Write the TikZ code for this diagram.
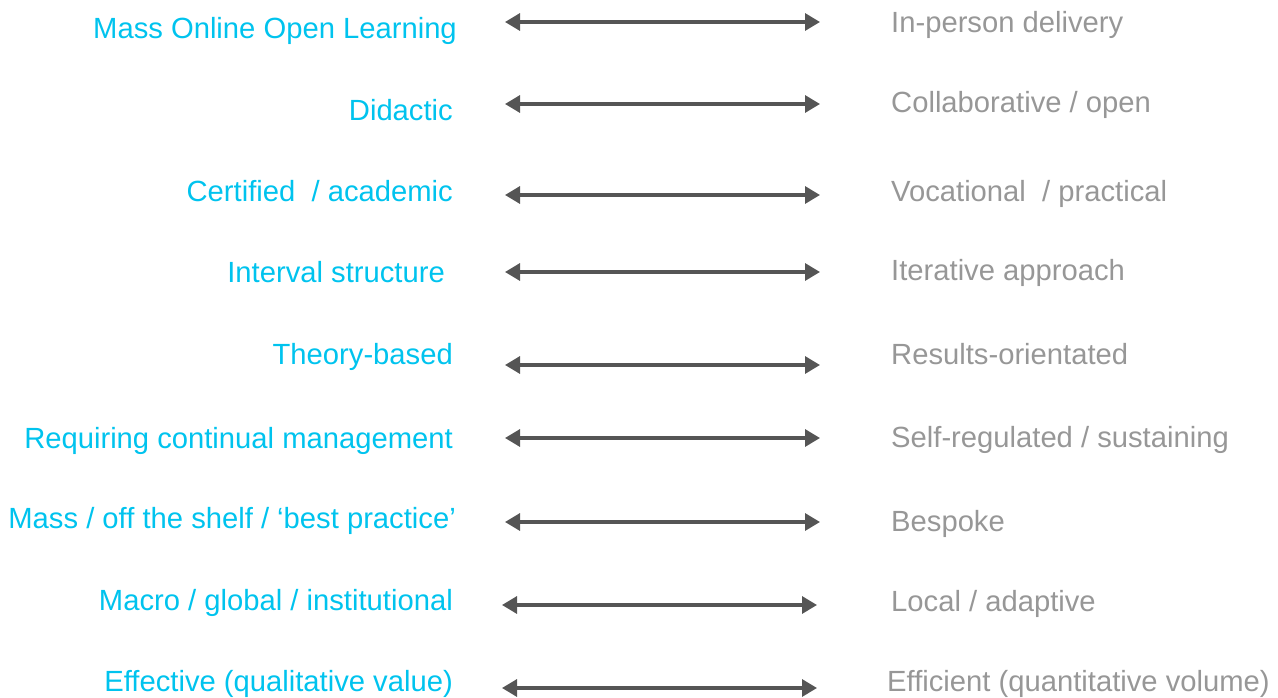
\documentclass[tikz,border=0pt]{standalone}
\usepackage{fontspec}
\setmainfont{Liberation Sans}
\usepackage{xcolor}
\usetikzlibrary{arrows.meta}
\definecolor{lcyan}{HTML}{00C3EE}
\definecolor{rgrey}{HTML}{979797}
\definecolor{agrey}{HTML}{555555}
\tikzset{
  ltxt/.style={anchor=east, inner sep=0pt, yshift=-7pt, text=lcyan, font=\fontsize{29.2}{34}\selectfont, text height=0.72em, text depth=0pt},
  rtxt/.style={anchor=west, inner sep=0pt, yshift=-7pt, text=rgrey, font=\fontsize{29.2}{34}\selectfont, text height=0.72em, text depth=0pt},
  parr/.style={{Triangle[length=15pt,width=17pt]}-{Triangle[length=15pt,width=17pt]}, line width=3.2pt, draw=agrey}
}

\begin{document}
\begin{tikzpicture}[x=1pt,y=-1pt]
\useasboundingbox (0,0) rectangle (1278,698);
% left column
\node[ltxt] (l1) at (457,28) {Mass Online Open Learning};
\node[ltxt] (l2) at (453,110) {Didactic};
\node[ltxt] (l3) at (453,191) {Certified\ \ / academic};
\node[ltxt] (l4) at (445,272) {Interval structure};
\node[ltxt] (l5) at (453,354) {Theory-based};
\node[ltxt] (l6) at (453,438) {Requiring continual management};
\node[ltxt] (l7) at (456,518) {Mass / off the shelf / `best practice'};
\node[ltxt] (l8) at (453,600) {Macro / global / institutional};
\node[ltxt] (l9) at (453,681) {Effective (qualitative value)};
% right column
\node[rtxt] (r1) at (891,22) {In-person delivery};
\node[rtxt] (r2) at (891,102) {Collaborative / open};
\node[rtxt] (r3) at (891,191) {Vocational\ \ / practical};
\node[rtxt] (r4) at (891,270) {Iterative approach};
\node[rtxt] (r5) at (891,354) {Results-orientated};
\node[rtxt] (r6) at (891,437) {Self-regulated / sustaining};
\node[rtxt] (r7) at (891,521) {Bespoke};
\node[rtxt] (r8) at (891,601) {Local / adaptive};
\node[rtxt] (r9) at (887,681) {Efficient (quantitative volume)};
% arrow ends
\coordinate (s1) at (505,22);  \coordinate (e1) at (820,22);
\coordinate (s2) at (505,104); \coordinate (e2) at (820,104);
\coordinate (s3) at (505,195); \coordinate (e3) at (820,195);
\coordinate (s4) at (505,272); \coordinate (e4) at (820,272);
\coordinate (s5) at (505,365); \coordinate (e5) at (820,365);
\coordinate (s6) at (505,438); \coordinate (e6) at (820,438);
\coordinate (s7) at (505,522); \coordinate (e7) at (820,522);
\coordinate (s8) at (502,605); \coordinate (e8) at (817,605);
\coordinate (s9) at (502,688); \coordinate (e9) at (817,688);
\draw[parr] (s1)--(e1); \draw[parr] (s2)--(e2); \draw[parr] (s3)--(e3);
\draw[parr] (s4)--(e4); \draw[parr] (s5)--(e5); \draw[parr] (s6)--(e6);
\draw[parr] (s7)--(e7); \draw[parr] (s8)--(e8); \draw[parr] (s9)--(e9);
\end{tikzpicture}
\end{document}
